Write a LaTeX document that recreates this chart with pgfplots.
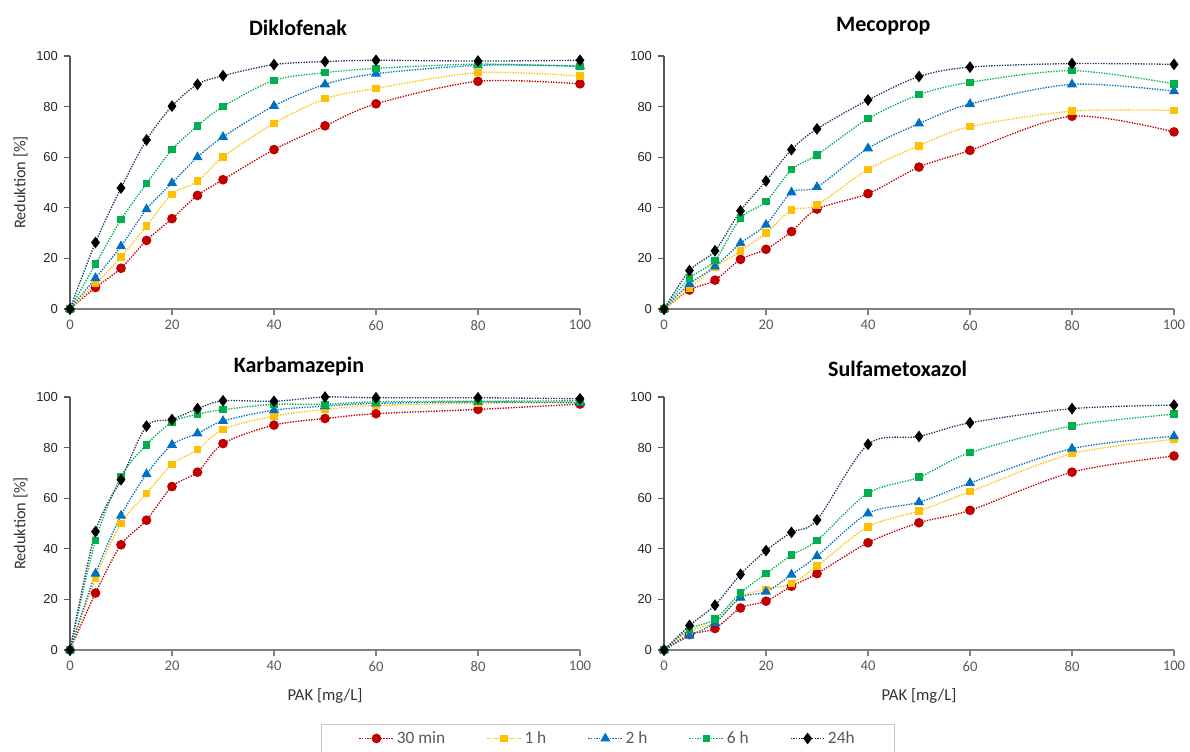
\documentclass[border=0pt]{standalone}
\usepackage{pgfplots}
\pgfplotsset{compat=1.18}
\usepackage{fontspec}
\setmainfont{Carlito}
\newfontfamily\arialf{Liberation Sans}
\definecolor{cRed}{HTML}{C00000}
\definecolor{cYel}{HTML}{FFC000}
\definecolor{cBlu}{HTML}{0070C0}
\definecolor{cGrn}{HTML}{00B050}
\definecolor{cNav}{HTML}{203864}
\definecolor{tgray}{HTML}{595959}
\definecolor{agray}{HTML}{808080}
\definecolor{ygray}{HTML}{595959}

\pgfplotstableread{
x    a     b     c     d     e
0    0     0     0     0     0
5    8.5   10.0  12.2  17.7  26.3
10   16.1  20.5  24.8  35.3  47.8
15   27.1  32.8  39.4  49.5  66.8
20   35.7  45.3  49.8  63.0  80.2
25   44.9  50.5  60.0  72.4  88.8
30   51.1  60.1  68.0  80.0  92.2
40   63.0  73.4  80.3  90.4  96.6
50   72.4  83.1  88.8  93.4  97.8
60   81.1  87.2  93.0  95.1  98.3
80   90.0  93.4  96.3  96.8  98.0
100  89.0  92.1  96.0  95.9  98.3
}\diklo
\pgfplotstableread{
x    a     b     c     d     e
0    0     0     0     0     0
5    7.5   8.2   9.9   12.2  15.2
10   11.4  16.5  16.8  19.2  23.0
15   19.6  22.9  26.0  35.9  38.8
20   23.6  30.0  33.3  42.4  50.6
25   30.6  39.1  46.1  55.1  63.0
30   39.5  41.1  48.2  60.9  71.2
40   45.6  55.2  63.5  75.2  82.6
50   56.1  64.5  73.3  84.7  91.9
60   62.7  72.1  81.0  89.6  95.6
80   76.2  78.2  88.8  94.2  97.0
100  70.0  78.5  86.1  89.0  96.7
}\meco
\pgfplotstableread{
x    a     b     c     d     e
0    0     0     0     0     0
5    22.5  28.2  30.2  43.3  46.8
10   41.6  50.1  53.1  68.6  67.3
15   51.3  61.9  69.5  81.1  88.5
20   64.6  73.4  81.1  90.1  91.1
25   70.3  79.2  85.6  93.2  95.4
30   81.6  87.2  90.5  95.0  98.5
40   88.9  92.5  94.8  97.1  98.3
50   91.5  95.1  96.4  97.1  100.0
60   93.4  96.7  97.5  98.1  99.7
80   95.1  97.5  98.0  98.3  99.7
100  97.2  98.0  97.7  98.5  99.3
}\karba
\pgfplotstableread{
x    a     b     c     d     e
0    0     0     0     0     0
5    6.1   7.4   5.7   8.3   9.7
10   8.5   11.0  10.7  12.2  17.7
15   16.6  20.9  20.7  22.6  29.9
20   19.3  24.0  23.0  30.2  39.3
25   25.2  26.2  29.8  37.5  46.5
30   30.2  33.2  37.1  43.3  51.4
40   42.4  48.7  54.0  62.0  81.3
50   50.3  55.0  58.4  68.3  84.4
60   55.2  62.6  66.0  78.0  89.8
80   70.3  77.6  79.6  88.6  95.4
100  76.7  83.2  84.5  93.2  96.8
}\sulfa

\pgfplotsset{
  panel/.style={
    scale only axis, width=382.5pt, height=189.75pt,
    xmin=0, xmax=100, ymin=0, ymax=100,
    xtick={0,20,40,60,80,100}, ytick={0,20,40,60,80,100},
    axis x line*=bottom, axis y line*=left,
    x axis line style={agray, line width=0.9pt, -},
    y axis line style={ygray, line width=0.9pt, -},
    xtick style={agray, line width=0.9pt},
    ytick style={ygray, line width=0.9pt},
    tick align=outside, major tick length=4.5pt,
    x tick label style={font=\fontsize{11}{13}\selectfont, text=tgray, yshift=-0.5pt},
    y tick label style={font=\arialf\fontsize{9.75}{11}\selectfont, text=black!85, xshift=-1pt},
    /pgf/number format/assume math mode=true,
    clip=false,
    title style={font=\bfseries\fontsize{16.5}{19}\selectfont, anchor=south, yshift=6pt},
    ylabel style={font=\fontsize{12.25}{14}\selectfont, text=black!80, at={(axis description cs:-0.097,0.5)}, anchor=center, rotate=0},
    xlabel style={font=\fontsize{12.5}{14}\selectfont, text=black!80, at={(axis description cs:0.5,-0.183)}, anchor=center},
    every axis plot/.append style={smooth, tension=0.5, densely dotted, line width=1pt},
    legend image code/.code={
      \draw[#1, mark repeat=2, mark phase=2] plot coordinates {(0pt,0pt) (12.75pt,0pt) (25.5pt,0pt)};
    },
  },
  sA/.style={cRed, mark=*, mark size=3.1pt, mark options={solid, fill=cRed, draw=cRed}},
  sB/.style={cYel, mark=square*, mark size=2.3pt, mark options={solid, fill=cYel, draw=cYel}},
  sC/.style={cBlu, mark=triangle*, mark size=3.4pt, mark options={solid, fill=cBlu, draw=cBlu}},
  sD/.style={cGrn, mark=square*, mark size=2.3pt, mark options={solid, fill=cGrn, draw=cGrn}},
  sE/.style={cNav, mark=diamond*, mark size=3.6pt, mark options={solid, fill=black, draw=black}},
}

\newcommand{\fiveplots}[1]{%
  \addplot[sA] table[x=x,y=a]{#1};
  \addplot[sB] table[x=x,y=b]{#1};
  \addplot[sC] table[x=x,y=c]{#1};
  \addplot[sD] table[x=x,y=d]{#1};
  \addplot[sE] table[x=x,y=e]{#1};
}

\begin{document}
\begin{tikzpicture}
\begin{axis}[panel, at={(52.5pt,331.5pt)}, anchor=south west, title={Diklofenak}, title style={at={(axis description cs:0.447,1)}}, ylabel={Reduktion [\%]}]
\fiveplots{\diklo}
\end{axis}
\begin{axis}[panel, at={(498pt,331.5pt)}, anchor=south west, title={Mecoprop}, title style={at={(axis description cs:0.43,1)}}]
\fiveplots{\meco}
\end{axis}
\begin{axis}[panel, at={(52.5pt,75.75pt)}, anchor=south west, title={Karbamazepin}, title style={at={(axis description cs:0.449,1)}}, ylabel={Reduktion [\%]}, xlabel={PAK [mg/L]},
  legend columns=5,
  legend style={at={(axis description cs:1.055,-0.294)}, anchor=north, draw=black!22, line width=0.6pt,
    font=\fontsize{13}{15}\selectfont, text=tgray,
    inner xsep=28pt, inner ysep=3pt,
    /tikz/every even column/.append style={column sep=29pt}},
  legend cell align=left]
\fiveplots{\karba}
\legend{30 min, 1 h, 2 h, 6 h, 24h}
\end{axis}
\begin{axis}[panel, at={(498pt,75.75pt)}, anchor=south west, title={Sulfametoxazol}, title style={at={(axis description cs:0.458,1)}}, xlabel={PAK [mg/L]}]
\fiveplots{\sulfa}
\end{axis}
\pgfresetboundingbox
\path[use as bounding box] (0pt,0pt) rectangle (892.5pt,563.25pt);
\end{tikzpicture}
\end{document}
